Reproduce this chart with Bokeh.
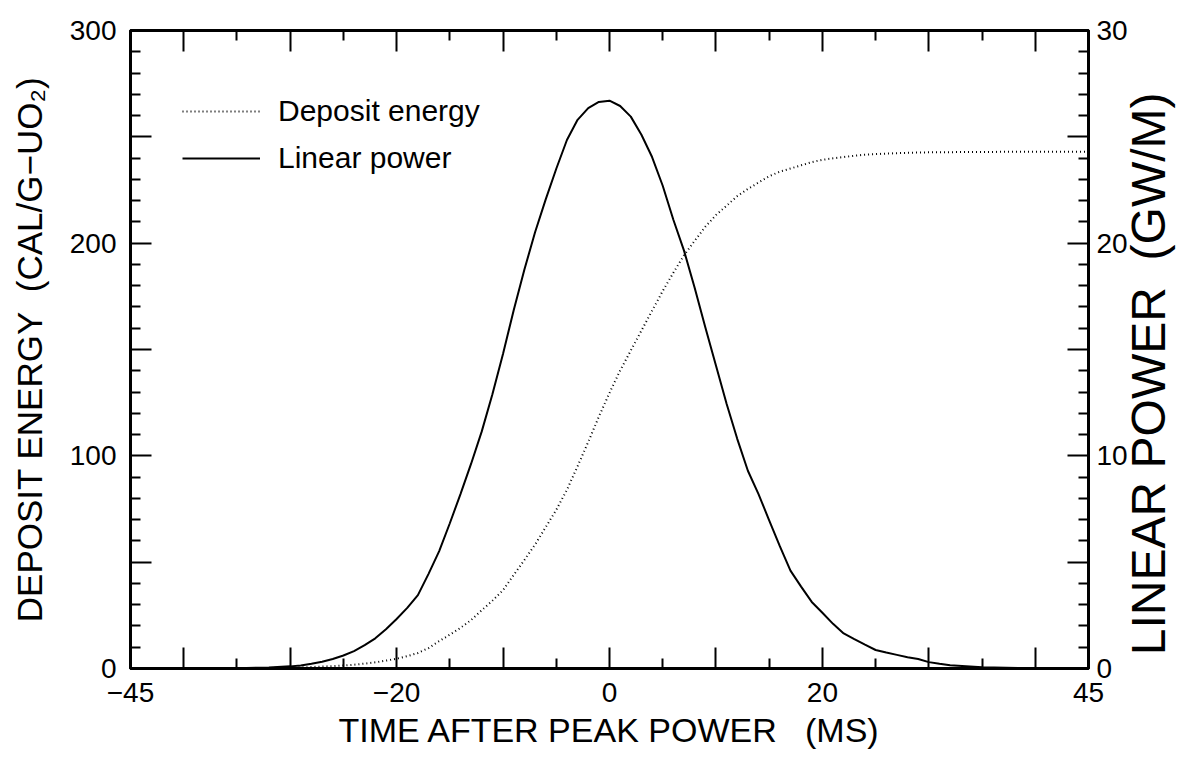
import math
from bokeh.plotting import figure
from bokeh.models import Range1d, LinearAxis, FixedTicker, Legend, LegendItem
from bokeh.embed import file_html
from bokeh.resources import INLINE

# ---- data ----
time_ms = [-45, -40, -35, -32, -30, -29, -28, -27, -26, -25, -24, -23, -22, -21, -20,
           -19, -18, -17, -16, -15, -14, -13, -12, -11, -10, -9, -8, -7, -6, -5, -4,
           -3, -2, -1, 0, 1, 2, 3, 4, 5, 6, 7, 8, 9, 10, 11, 12, 13, 14, 15, 16, 17,
           18, 19, 20, 21, 22, 23, 24, 25, 26, 27, 28, 29, 30, 31, 32, 35, 40, 45]
deposit_energy = [0, 0, 0.1, 0.25, 0.4, 0.55, 0.7, 0.9, 1.1, 1.4, 1.8, 2.3, 2.9, 3.7,
                  4.6, 5.8, 7.3, 9.6, 12.9, 15.9, 19.1, 22.8, 27.4, 31.9, 36.8, 44,
                  51, 58.2, 66.4, 74.6, 84, 95.1, 106.5, 118.4, 129.6, 140.1, 149.5,
                  158.9, 168.2, 177.5, 186.1, 194.3, 201.1, 207.7, 213.2, 217.6,
                  222.1, 225.5, 228.5, 231.5, 233.6, 235.1, 236.6, 238.1, 239.2,
                  239.9, 240.5, 241.1, 241.6, 241.9, 242.1, 242.3, 242.5, 242.6,
                  242.7, 242.75, 242.8, 242.9, 243, 243]
linear_power = [0, 0, 0.01, 0.05, 0.1, 0.14, 0.22, 0.32, 0.45, 0.61, 0.82, 1.1, 1.42,
                1.85, 2.33, 2.85, 3.45, 4.45, 5.52, 6.83, 8.2, 9.63, 11.15, 12.9,
                14.8, 16.85, 18.75, 20.5, 22.05, 23.5, 24.85, 25.8, 26.35, 26.64,
                26.7, 26.45, 25.95, 25.1, 24.05, 22.7, 21.1, 19.65, 17.9, 16.05,
                14.25, 12.45, 10.8, 9.3, 8.2, 6.97, 5.75, 4.6, 3.85, 3.13, 2.62, 2.1,
                1.65, 1.38, 1.12, 0.87, 0.75, 0.64, 0.53, 0.45, 0.3, 0.22, 0.15,
                0.06, 0.01, 0]

x_major = [-45, -40, -30, -20, -10, 0, 10, 20, 30, 40, 45]
x_minor = [-35, -25, -15, -5, 5, 15, 25, 35]
x_labels = {-45: "\u221245", -20: "\u221220", 0: "0", 20: "20", 45: "45"}
left_major = [0, 50, 100, 150, 200, 250, 300]
left_labels = {0: "0", 100: "100", 200: "200", 300: "300"}
right_major = [0, 5, 10, 15, 20, 25, 30]
right_labels = {0: "0", 10: "10", 20: "20", 30: "30"}

FONT = "Liberation Sans"
RIGHT_TITLE = "\u00a0LINEAR POWER\u00a0\u00a0(GW/M)"

p = figure(width=1204, height=758, x_range=Range1d(-45, 45), y_range=Range1d(0, 300),
           output_backend="svg", toolbar_location=None,
           min_border_left=130, min_border_right=115, min_border_top=30,
           min_border_bottom=90)
p.extra_y_ranges = {"power": Range1d(0, 30)}
p.grid.visible = False
p.outline_line_color = "black"
p.outline_line_width = 3
p.background_fill_color = "white"
p.border_fill_color = "white"

r_e = p.line(time_ms, deposit_energy, line_dash="1 3", line_width=2, color="black")
r_p = p.line(time_ms, linear_power, y_range_name="power", line_width=2, color="black")


def style(ax, major, minor, labels, size="28px", standoff=10):
    ax.ticker = FixedTicker(ticks=major, minor_ticks=minor)
    ax.major_label_overrides = {t: labels.get(t, "") for t in major}
    ax.major_tick_in = 21
    ax.major_tick_out = 0
    ax.minor_tick_in = 10
    ax.minor_tick_out = 0
    ax.major_tick_line_width = 2
    ax.minor_tick_line_width = 2
    ax.major_tick_line_color = "black"
    ax.minor_tick_line_color = "black"
    ax.axis_line_width = 3
    ax.axis_line_color = "black"
    ax.major_label_text_font = FONT
    ax.major_label_text_font_size = size
    ax.major_label_text_color = "black"
    ax.major_label_standoff = standoff
    ax.axis_label_text_font = FONT
    ax.axis_label_text_font_style = "normal"
    ax.axis_label_text_color = "black"


xa = p.xaxis[0]
style(xa, x_major, x_minor, x_labels, standoff=14)
xa.axis_label = "TIME AFTER PEAK POWER\u00a0\u00a0\u00a0(MS)"
xa.axis_label_text_font_size = "34px"
xa.axis_label_standoff = 6

ya = p.yaxis[0]
left_minor = [v for v in range(0, 301, 10) if v % 50]
style(ya, left_major, left_minor, left_labels, standoff=14)
ya.axis_label = "DEPOSIT ENERGY\u00a0\u00a0(CAL/G\u2212UO\u2082)"
ya.axis_label_text_font_size = "35px"
ya.axis_label_standoff = 18

top = LinearAxis()
style(top, x_major, x_minor, {})
p.add_layout(top, "above")

right_minor = [v for v in range(0, 31) if v % 5]
ra = LinearAxis(y_range_name="power")
style(ra, right_major, right_minor, right_labels, standoff=8)
ra.axis_label = RIGHT_TITLE
ra.axis_label_text_font_size = "48px"
ra.axis_label_standoff = 18
ra.axis_label_orientation = math.pi / 2
ra.axis_label_align = "start"
p.add_layout(ra, "right")

legend = Legend(items=[LegendItem(label="Deposit energy", renderers=[r_e]),
                       LegendItem(label="Linear power", renderers=[r_p])],
                location=(52, 492), glyph_width=78, glyph_height=36, label_height=36,
                spacing=11, label_standoff=18, label_text_font=FONT,
                label_text_font_size="30px", label_text_color="black",
                border_line_alpha=0, background_fill_alpha=0, padding=0, margin=0)
p.add_layout(legend)

open("out.html", "w").write(file_html(p, INLINE))
